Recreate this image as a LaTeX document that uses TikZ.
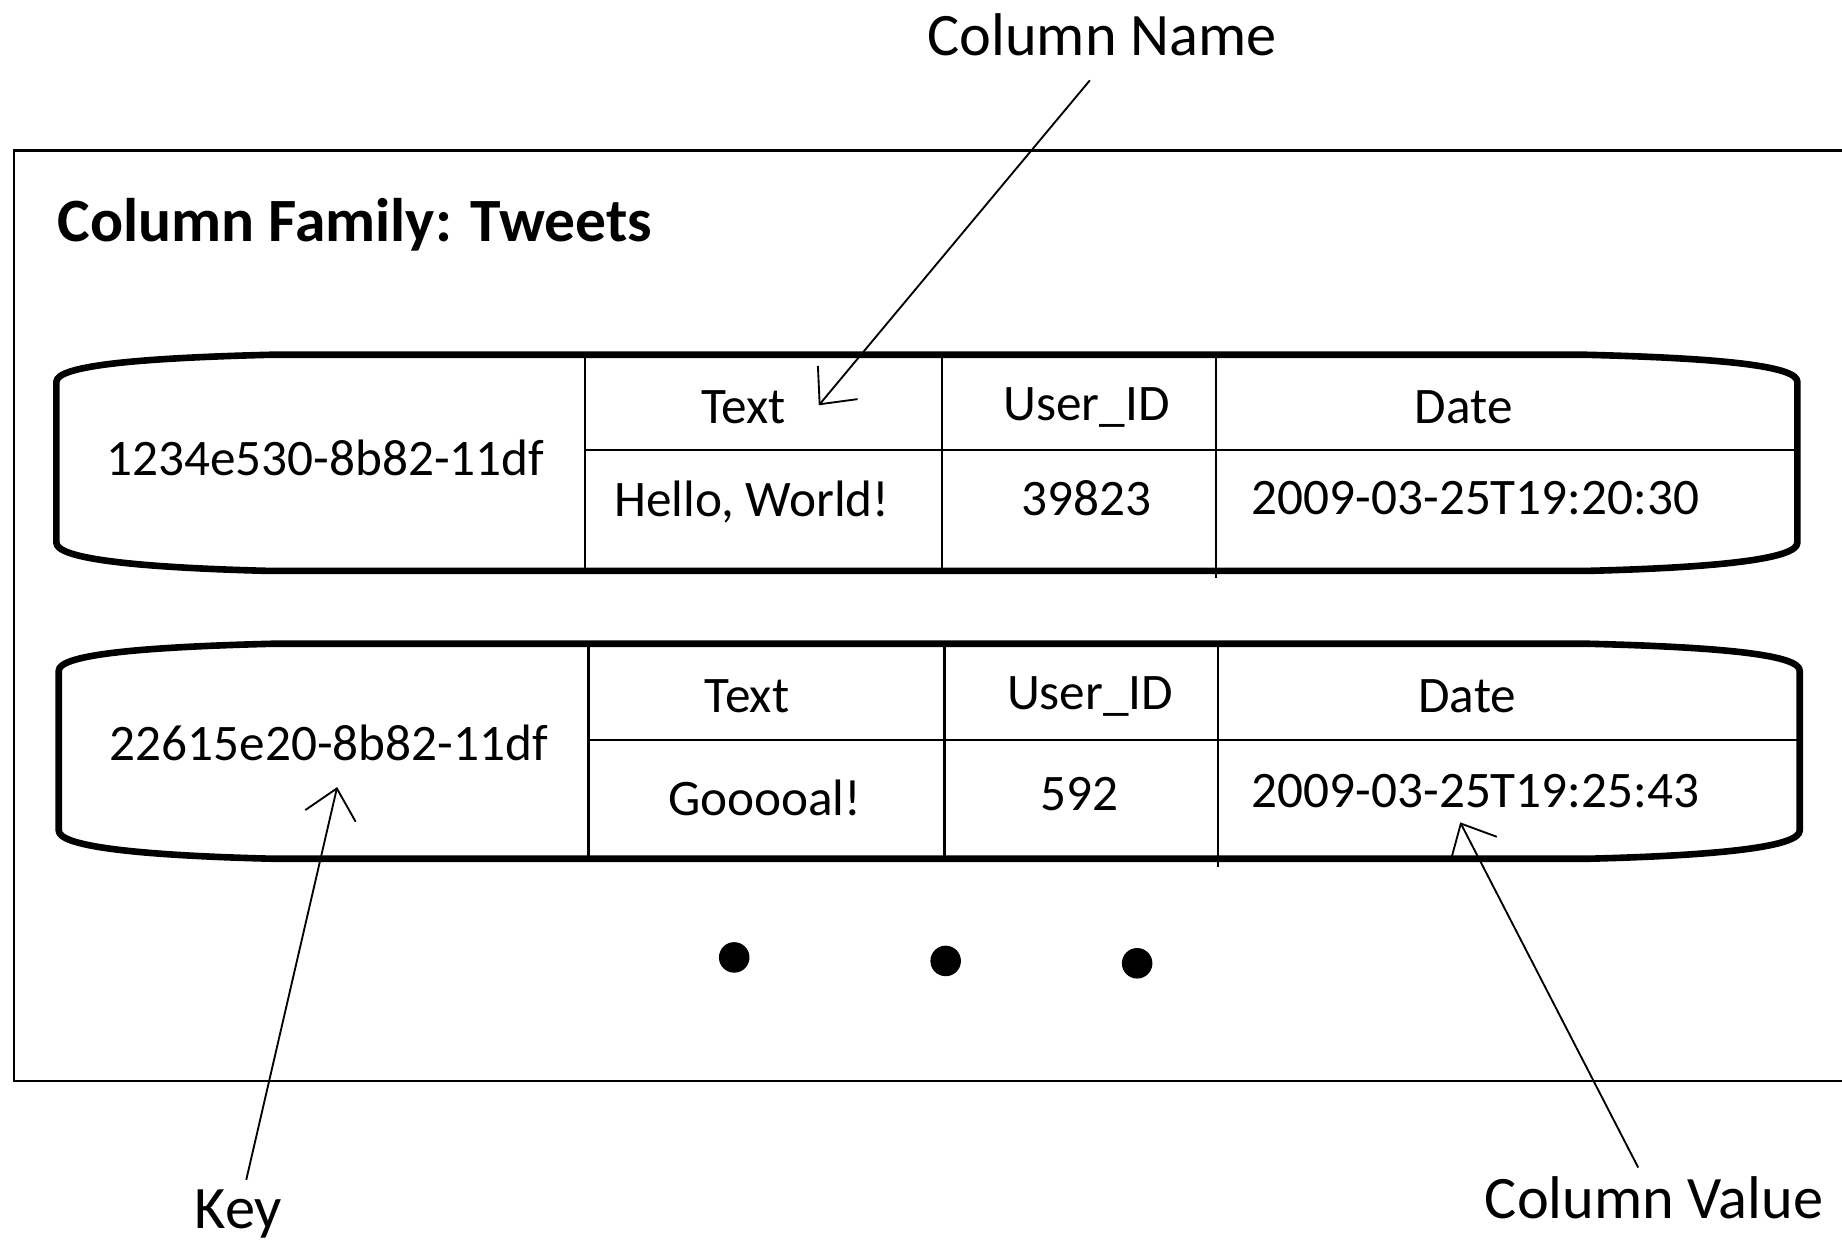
\documentclass[tikz,border=0pt]{standalone}
\usepackage{fontspec}
\setmainfont{Carlito}
\usetikzlibrary{arrows.meta}

\begin{document}
\begin{tikzpicture}[x=0.01cm,y=-0.01cm,>={Straight Barb[length=2.4mm,width=4.4mm]},
                    line width=0.6pt]
  \tikzstyle{cell}=[inner sep=0pt,font=\fontsize{12.4}{14}\selectfont]
  \tikzstyle{label}=[inner sep=2pt,font=\fontsize{14.6}{17}\selectfont]
  \tikzstyle{row}=[line width=1.6pt,line join=round]
  \tikzstyle{pointer}=[->,line width=0.45pt]

  \useasboundingbox (0,0) rectangle (1568,1057);

  % column family box (open at the right)
  \draw (1570,128) -- (12,128) -- (12,920) -- (1570,920);
  \node[anchor=west,inner sep=0pt,font=\fontsize{14.9}{17}\selectfont\bfseries]
       (family) at (48,191) {Column Family: Tweets};

  % first row
  \draw[row] (230,302) -- (1350,302) .. controls (1470,305) and (1530,312) .. (1530,325)
             -- (1530,462) .. controls (1530,475) and (1470,483) .. (1350,486)
             -- (230,486) .. controls (110,483) and (48,475) .. (48,462)
             -- (48,325) .. controls (48,312) and (110,305) .. (230,302) -- cycle;
  \draw (498,302) -- (498,486) (802,302) -- (802,486) (1035,302) -- (1035,492)
        (498,383) -- (1528,383);
  \node[cell] (key1)   at (277,390)  {1234e530-8b82-11df};
  \node[cell] (name11) at (633,347)  {Text};
  \node[cell] (name12) at (925,347)  {User\_ID};
  \node[cell] (name13) at (1246,347) {Date};
  \node[cell] (val11)  at (640,427)  {Hello, World!};
  \node[cell] (val12)  at (925,424)  {39823};
  \node[cell] (val13)  at (1256,424) {2009-03-25T19:20:30};

  % second row
  \draw[row] (232,548) -- (1352,548) .. controls (1472,551) and (1532,558) .. (1532,571)
             -- (1532,707) .. controls (1532,720) and (1472,728) .. (1352,731)
             -- (232,731) .. controls (112,728) and (50,720) .. (50,707)
             -- (50,571) .. controls (50,558) and (112,551) .. (232,548) -- cycle;
  \draw (501,548) -- (501,731) (804,548) -- (804,731) (1037,548) -- (1037,738)
        (501,630) -- (1530,630);
  \node[cell] (key2)   at (280,632)  {22615e20-8b82-11df};
  \node[cell] (name21) at (636,593)  {Text};
  \node[cell] (name22) at (928,593)  {User\_ID};
  \node[cell] (name23) at (1249,593) {Date};
  \node[cell] (val21)  at (651,679)  {Gooooal!};
  \node[cell] (val22)  at (919,676)  {592};
  \node[cell] (val23)  at (1256,673) {2009-03-25T19:25:43};

  % more rows
  \foreach \x/\y in {625/815, 805/818, 968/820}
    \fill (\x,\y) circle (13);

  % labels and pointers
  \node[label] (cname)  at (938,30)   {Column Name};
  \node[label] (key)    at (203,1033) {Key};
  \node[label] (cvalue) at (1408,1020) {Column Value};

  \coordinate (cnametip)  at (697,345);
  \coordinate (keytip)    at (287,670);
  \coordinate (cvaluetip) at (1243,700);

  \draw[pointer,shorten <=1.6mm] (cname.south) -- (cnametip);
  \draw[pointer] (key) -- (keytip);
  \draw[pointer] (cvalue) -- (cvaluetip);
\end{tikzpicture}
\end{document}
